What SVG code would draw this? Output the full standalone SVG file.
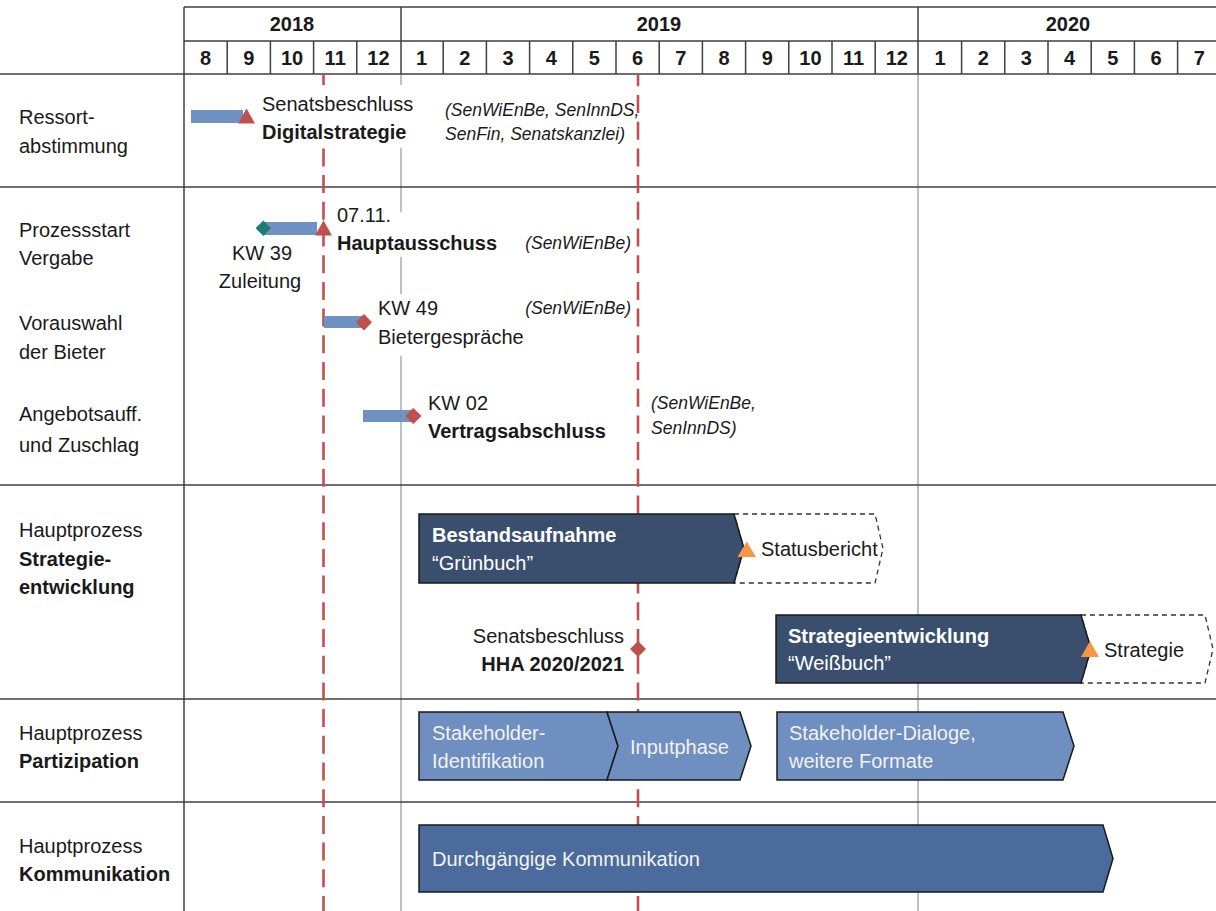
<svg xmlns="http://www.w3.org/2000/svg" width="1216" height="911" viewBox="0 0 1216 911">
<style>
  text { font-family: "Liberation Sans", Arial, sans-serif; font-size: 20px; fill: #1a1a1a; }
  .b { font-weight: bold; }
  .it { font-style: italic; font-size: 17.5px; }
  .hd { font-weight: bold; text-anchor: middle; }
  .w { fill: #ffffff; }
  .lw { fill: #f2f2f2; }
  .grid { stroke: #404040; stroke-width: 1.5; fill: none; }
  .thin { stroke: #808080; stroke-width: 1; fill: none; }
  .red { stroke: #c0504d; stroke-width: 2.6; stroke-dasharray: 18 8.7; fill: none; }
  .bar { fill: #7092c2; }
  .redm { fill: #c0504d; }
  .tealm { fill: #1b7c72; }
  .orm { fill: #f79646; }
  .dark { fill: #3a4f6e; stroke: #1a1a1a; stroke-width: 1.5; }
  .mid { fill: #6e8fbf; stroke: #1a1a1a; stroke-width: 1.5; }
  .kom { fill: #4a6b9b; stroke: #1a1a1a; stroke-width: 1.5; }
  .dash { fill: #ffffff; stroke: #333333; stroke-width: 1.3; stroke-dasharray: 5 4; }
</style>

<g id="grid">
  <rect x="0" y="0" width="1216" height="911" fill="#ffffff"/>
  <path class="thin" d="M401,74 V88 M401,143 V212 M401,257 V294 M401,356 V911 M918,74 V911"/>
  <path class="grid" d="M184,7 H1216 M184,41 H1216 M0,74 H1216 M0,187 H1216 M0,485 H1216 M0,699 H1216 M0,802 H1216"/>
  <path class="grid" d="M184,7 V911 M401,7 V74 M918,7 V74"/>
  <path class="grid" d="M227.2,41 V74 M270.4,41 V74 M313.6,41 V74 M356.8,41 V74 M443.2,41 V74 M486.4,41 V74 M529.6,41 V74 M572.8,41 V74 M616,41 V74 M659.2,41 V74 M702.4,41 V74 M745.6,41 V74 M788.8,41 V74 M832,41 V74 M875.2,41 V74 M961.6,41 V74 M1004.8,41 V74 M1048,41 V74 M1091.2,41 V74 M1134.4,41 V74 M1177.6,41 V74"/>
  <text class="hd" x="292" y="31">2018</text>
  <text class="hd" x="659" y="31">2019</text>
  <text class="hd" x="1068" y="31">2020</text>
  <text class="hd" x="205.6" y="65">8</text>
  <text class="hd" x="248.8" y="65">9</text>
  <text class="hd" x="292" y="65">10</text>
  <text class="hd" x="335.2" y="65">11</text>
  <text class="hd" x="378.4" y="65">12</text>
  <text class="hd" x="421.6" y="65">1</text>
  <text class="hd" x="464.8" y="65">2</text>
  <text class="hd" x="508" y="65">3</text>
  <text class="hd" x="551.2" y="65">4</text>
  <text class="hd" x="594.4" y="65">5</text>
  <text class="hd" x="637.6" y="65">6</text>
  <text class="hd" x="680.8" y="65">7</text>
  <text class="hd" x="724" y="65">8</text>
  <text class="hd" x="767.2" y="65">9</text>
  <text class="hd" x="810.4" y="65">10</text>
  <text class="hd" x="853.6" y="65">11</text>
  <text class="hd" x="896.8" y="65">12</text>
  <text class="hd" x="940" y="65">1</text>
  <text class="hd" x="983.2" y="65">2</text>
  <text class="hd" x="1026.4" y="65">3</text>
  <text class="hd" x="1069.6" y="65">4</text>
  <text class="hd" x="1112.8" y="65">5</text>
  <text class="hd" x="1156" y="65">6</text>
  <text class="hd" x="1199.2" y="65">7</text>
</g>

<g id="row-labels">
  <text x="19" y="124">Ressort-</text>
  <text x="19" y="153">abstimmung</text>
  <text x="19" y="237">Prozessstart</text>
  <text x="19" y="265">Vergabe</text>
  <text x="19" y="330">Vorauswahl</text>
  <text x="19" y="359">der Bieter</text>
  <text x="19" y="421">Angebotsauff.</text>
  <text x="19" y="452">und Zuschlag</text>
  <text x="19" y="537">Hauptprozess</text>
  <text x="19" y="566" class="b">Strategie-</text>
  <text x="19" y="594" class="b">entwicklung</text>
  <text x="19" y="740">Hauptprozess</text>
  <text x="19" y="768" class="b">Partizipation</text>
  <text x="19" y="853">Hauptprozess</text>
  <text x="19" y="881" class="b">Kommunikation</text>
</g>

<g id="connectors">
  <line class="red" x1="323.5" y1="74" x2="323.5" y2="911" stroke-dashoffset="5.7"/>
  <line class="red" x1="638" y1="74" x2="638" y2="911" stroke-dashoffset="5.7"/>
</g>

<g id="ressortabstimmung">
  <rect class="bar" x="191" y="110" width="52" height="13"/>
  <polygon class="redm" points="246.5,108.5 255,123.5 238,123.5"/>
  <rect x="257" y="85" width="161" height="63" fill="#ffffff"/>
  <text x="262" y="111">Senatsbeschluss</text>
  <text x="262" y="139" class="b">Digitalstrategie</text>
  <text x="445" y="116" class="it">(SenWiEnBe, SenInnDS,</text>
  <text x="445" y="140" class="it">SenFin, Senatskanzlei)</text>
</g>

<g id="prozessstart">
  <rect class="bar" x="263" y="222" width="54" height="13"/>
  <polygon class="tealm" points="263.3,220.5 271,228.3 263.3,236 255.6,228.3"/>
  <polygon class="redm" points="323.5,220.5 332,235.5 315,235.5"/>
  <text x="262" y="260" text-anchor="middle">KW 39</text>
  <text x="260" y="288" text-anchor="middle">Zuleitung</text>
  <text x="337" y="222">07.11.</text>
  <text x="337" y="250" class="b">Hauptausschuss</text>
  <text x="631" y="249" class="it" text-anchor="end">(SenWiEnBe)</text>
</g>

<g id="vorauswahl">
  <rect class="bar" x="324" y="316" width="38" height="12"/>
  <polygon class="redm" points="364,314 372,322.3 364,330.6 356,322.3"/>
  <text x="378" y="315">KW 49</text>
  <text x="378" y="344">Bietergespräche</text>
  <text x="631" y="314" class="it" text-anchor="end">(SenWiEnBe)</text>
</g>

<g id="angebot">
  <rect class="bar" x="363" y="410" width="50" height="12"/>
  <polygon class="redm" points="413.3,408 421.5,416 413.3,424 405.1,416"/>
  <text x="428" y="410">KW 02</text>
  <text x="428" y="438" class="b">Vertragsabschluss</text>
  <text x="651" y="409" class="it">(SenWiEnBe,</text>
  <text x="651" y="434" class="it">SenInnDS)</text>
</g>

<g id="bestandsaufnahme">
  <path class="dash" d="M734,514 H875 L883,548.5 L875,583 H734 L744,548.5 Z"/>
  <path class="dark" d="M419,514 H734 L744,548.5 L734,583 H419 Z"/>
  <polygon class="orm" points="746.7,541.5 756,557 737.5,557"/>
  <text x="432" y="542" class="b w">Bestandsaufnahme</text>
  <text x="432" y="570" class="w">“Grünbuch”</text>
  <text x="761" y="556">Statusbericht</text>
</g>

<g id="hha">
  <polygon class="redm" points="638,641 646,649 638,657 630,649"/>
  <text x="624" y="643" text-anchor="end">Senatsbeschluss</text>
  <text x="624" y="671" class="b" text-anchor="end">HHA 2020/2021</text>
</g>

<g id="strategieentwicklung">
  <path class="dash" d="M1081,615 H1205 L1213,649 L1205,683 H1081 L1091,649 Z"/>
  <path class="dark" d="M776,615 H1081 L1091,649 L1081,683 H776 Z"/>
  <polygon class="orm" points="1090,641 1099,657 1081,657"/>
  <text x="788" y="643" class="b w">Strategieentwicklung</text>
  <text x="788" y="670" class="w">“Weißbuch”</text>
  <text x="1104" y="657">Strategie</text>
</g>

<g id="stakeholder-identifikation">
  <path class="mid" d="M419,712 H607 L618,746 L607,780 H419 Z"/>
  <text x="432" y="740" class="lw">Stakeholder-</text>
  <text x="432" y="768" class="lw">Identifikation</text>
</g>

<g id="inputphase">
  <path class="mid" d="M607,712 H740 L751,746 L740,780 H607 L618,746 Z"/>
  <text x="630" y="754" class="lw">Inputphase</text>
</g>

<g id="stakeholder-dialoge">
  <path class="mid" d="M777,712 H1063 L1074,746 L1063,780 H777 Z"/>
  <text x="789" y="740" class="lw">Stakeholder-Dialoge,</text>
  <text x="789" y="768" class="lw">weitere Formate</text>
</g>

<g id="kommunikation">
  <path class="kom" d="M419,825 H1103 L1113,858.5 L1103,892 H419 Z"/>
  <text x="432" y="866" class="lw">Durchgängige Kommunikation</text>
</g>
</svg>
